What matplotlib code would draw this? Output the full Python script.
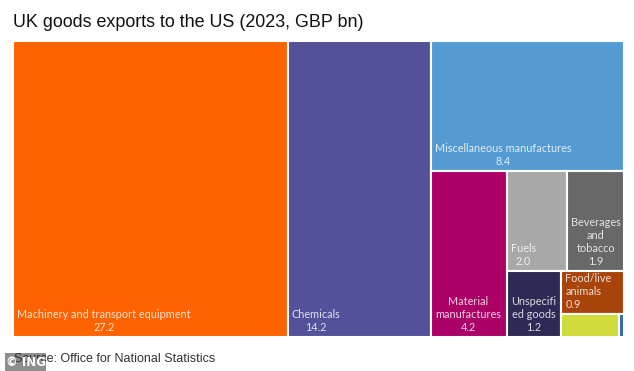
import matplotlib
matplotlib.use("Agg")
import matplotlib.pyplot as plt
from matplotlib.patches import Rectangle

# ---- data ----
categories = ["Machinery and transport equipment", "Chemicals", "Miscellaneous manufactures",
              "Material manufactures", "Fuels", "Beverages and tobacco", "Unspecified goods",
              "Food/live animals", "Animal and vegetable oils", "Other commodities"]
values = [27.2, 14.2, 8.4, 4.2, 2.0, 1.9, 1.2, 0.9, 0.45, 0.04]
label_names = ["Machinery and transport equipment", "Chemicals", "Miscellaneous manufactures",
               "Material\nmanufactures", "Fuels", "Beverages\nand\ntobacco", "Unspecifi\ned goods",
               "Food/live\nanimals", None, None]
colors = ["#FF6200", "#525199", "#559BD3", "#AB0066", "#A8A8A8", "#686868", "#2D2B55",
          "#A8440A", "#D0DB3C", "#2F6AA0"]
label_align = ["center", "center", "center", "center", "center", "center", "center",
               "left", "center", "center"]
title = "UK goods exports to the US (2023, GBP bn)"
source = "Source: Office for National Statistics"


def squarify(vals, x0, y0, x1, y1, ratio):
    rects = [None] * len(vals)
    n = len(vals)
    i0 = 0
    value = float(sum(vals))
    while i0 < n:
        dx, dy = x1 - x0, y1 - y0
        i1 = i0
        s = vals[i1]
        i1 += 1
        minv = maxv = s
        alpha = max(dy / dx, dx / dy) / (value * ratio)
        beta = s * s * alpha
        minr = max(maxv / beta, beta / minv)
        while i1 < n:
            v = vals[i1]
            s2 = s + v
            mn, mx = min(minv, v), max(maxv, v)
            beta = s2 * s2 * alpha
            nr = max(mx / beta, beta / mn)
            if nr > minr:
                break
            s, minv, maxv, minr = s2, mn, mx, nr
            i1 += 1
        if dx < dy:
            ny = y0 + dy * s / value
            xx = x0
            for k in range(i0, i1):
                w = dx * vals[k] / s
                rects[k] = (xx, y0, w, ny - y0)
                xx += w
            y0 = ny
        else:
            nx = x0 + dx * s / value
            yy = y0
            for k in range(i0, i1):
                h = dy * vals[k] / s
                rects[k] = (x0, yy, nx - x0, h)
                yy += h
            x0 = nx
        value -= s
        i0 = i1
    return rects


W, H = 634, 371
fig = plt.figure(figsize=(W / 100, H / 100), dpi=100)
fig.patch.set_facecolor("white")

L, T, R, B = 13, 41, 624, 337
ax = fig.add_axes([L / W, 1 - B / H, (R - L) / W, (B - T) / H])
AW, AH = R - L, B - T
ax.set_xlim(0, AW)
ax.set_ylim(AH, 0)
ax.axis("off")

rects = squarify(values, 0, 0, AW, AH, 0.95)
for (x, y, w, h), c, nm, v, al in zip(rects, colors, label_names, values, label_align):
    ax.add_patch(Rectangle((x, y), w, h, facecolor=c, edgecolor="white", linewidth=1.5))
    if nm is not None:
        ax.text(x + 4, y + h - 4, f"{nm}\n{v:.1f}", ha="left", va="bottom",
                multialignment=al, color="white", alpha=0.82, fontsize=7.8,
                family="Lato", linespacing=1.2)

fig.text(13 / W, 1 - 27 / H, title, ha="left", va="baseline", fontsize=12.85,
         family="Liberation Sans", color="#111111")
fig.text(14 / W, 1 - 362 / H, source, ha="left", va="baseline", fontsize=9.0,
         family="Liberation Sans", color="#333333")

# watermark badge
fig.patches.append(Rectangle((5 / W, 0), 41 / W, 18 / H, transform=fig.transFigure,
                             facecolor="#7A7A7A", alpha=0.85, edgecolor="none"))
fig.text(25.5 / W, 9 / H, "© ING", ha="center", va="center", fontsize=8.5,
         family="DejaVu Sans", weight="bold", color="white")

fig.savefig("out.png", dpi=100)
